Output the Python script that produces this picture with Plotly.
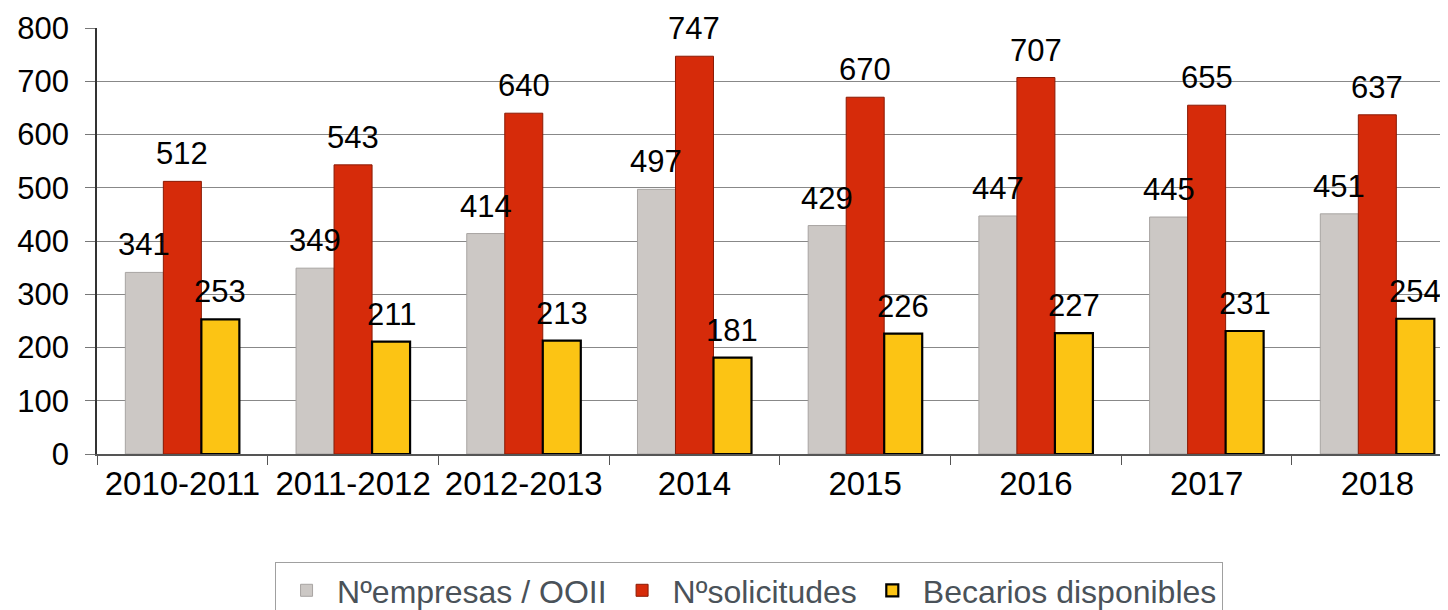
import plotly.graph_objects as go

categories = ["2010-2011", "2011-2012", "2012-2013", "2014", "2015", "2016", "2017", "2018"]
empresas = [341, 349, 414, 497, 429, 447, 445, 451]
solicitudes = [512, 543, 640, 747, 670, 707, 655, 637]
becarios = [253, 211, 213, 181, 226, 227, 231, 254]
y_ticks = [0, 100, 200, 300, 400, 500, 600, 700, 800]

FONT = "Liberation Sans, Arial, sans-serif"

fig = go.Figure()
series = [
    ("Nºempresas / OOII", empresas, "#CCC8C5", "#A8A4A2", 1),
    ("Nºsolicitudes", solicitudes, "#D62B0A", "#8A1A05", 1),
    ("Becarios disponibles", becarios, "#FCC414", "#000000", 2.2),
]
BAR_PX = 38
for i, (name, vals, color, line, lw) in enumerate(series):
    fig.add_trace(go.Bar(
        x=categories, y=vals, name=name,
        marker=dict(color=color, line=dict(color=line, width=lw)),
    ))
    for j, v in enumerate(vals):
        fig.add_annotation(
            x=j, y=v, xref="x", yref="y", text=str(v), showarrow=False,
            xanchor="center", yanchor="bottom",
            xshift=(i - 1) * BAR_PX, yshift=8,
            font=dict(family=FONT, size=31, color="#000000"),
        )

# page body has an 8px margin: figure is drawn from (8, 8)
fig.update_layout(
    width=1440, height=602,
    margin=dict(l=89, r=0, t=20, b=156, autoexpand=False),
    paper_bgcolor="#FFFFFF", plot_bgcolor="#FFFFFF",
    barmode="group", bargap=0.332, bargroupgap=0,
    font=dict(family=FONT, size=30, color="#000000"),
    showlegend=True,
    legend=dict(
        orientation="h", x=0.1318, xanchor="left", y=-0.2535, yanchor="top",
        font=dict(family=FONT, size=32, color="#4A5259"),
        bordercolor="#A0A0A0", borderwidth=1, bgcolor="#FFFFFF",
        traceorder="normal", itemwidth=51,
    ),
)
fig.update_xaxes(
    type="category", range=[-0.5, 7.414], automargin=False,
    showline=True, linecolor="#555555", linewidth=1.5,
    ticks="outside", tickson="boundaries", ticklen=9, tickcolor="#555555",
    tickfont=dict(family=FONT, size=33, color="#000000"),
    showgrid=False,
)
fig.update_yaxes(
    range=[0, 800], tickvals=y_ticks, automargin=False,
    showline=True, linecolor="#333333", linewidth=1.5,
    ticks="outside", ticklen=10, tickcolor="#777777",
    ticklabelstandoff=10,
    tickfont=dict(family=FONT, size=31, color="#000000"),
    showgrid=True, gridcolor="#888888", gridwidth=1,
    zeroline=False,
)

fig.write_html("out.html")
